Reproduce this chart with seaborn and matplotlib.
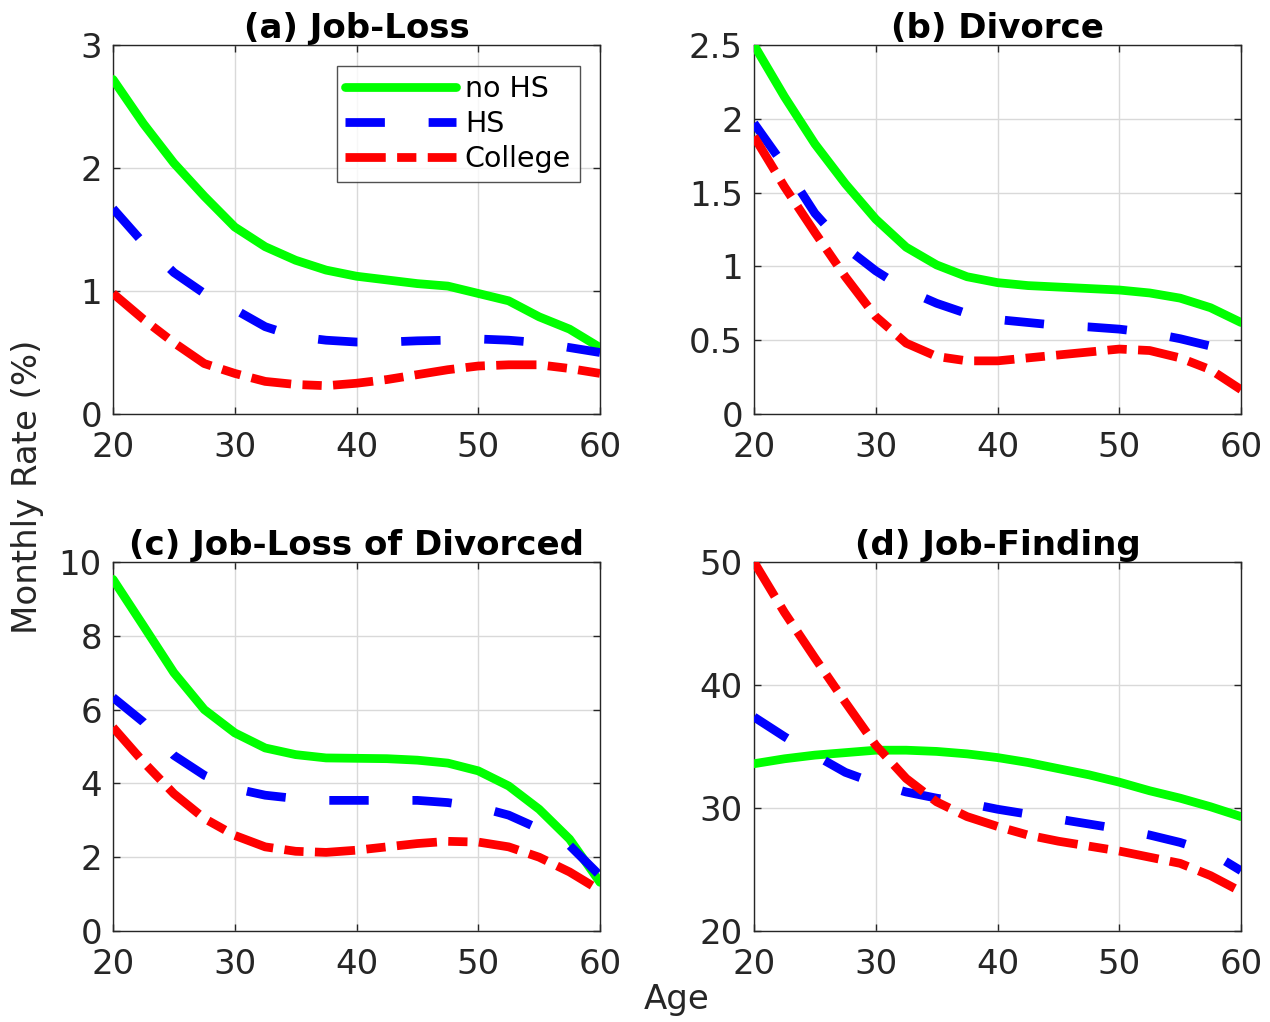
import numpy as np
import pandas as pd
import matplotlib
matplotlib.use("Agg")
import matplotlib.pyplot as plt
import seaborn as sns

# ---------------- data ----------------
ages = [20, 22.5, 25, 27.5, 30, 32.5, 35, 37.5, 40, 42.5, 45, 47.5, 50, 52.5, 55, 57.5, 60]

jobloss_nohs = [2.72, 2.36, 2.04, 1.77, 1.52, 1.36, 1.25, 1.17, 1.12, 1.09, 1.06, 1.04, 0.98, 0.92, 0.79, 0.69, 0.54]
jobloss_hs = [1.67, 1.39, 1.15, 0.98, 0.85, 0.71, 0.63, 0.60, 0.585, 0.585, 0.595, 0.60, 0.61, 0.60, 0.58, 0.54, 0.50]
jobloss_col = [0.98, 0.77, 0.58, 0.41, 0.33, 0.265, 0.24, 0.23, 0.25, 0.28, 0.32, 0.36, 0.39, 0.40, 0.40, 0.37, 0.33]

divorce_nohs = [2.50, 2.15, 1.83, 1.56, 1.32, 1.13, 1.01, 0.93, 0.89, 0.87, 0.86, 0.85, 0.84, 0.82, 0.785, 0.72, 0.62]
divorce_hs = [1.97, 1.68, 1.36, 1.13, 0.97, 0.84, 0.75, 0.68, 0.64, 0.62, 0.60, 0.59, 0.575, 0.55, 0.51, 0.46, 0.38]
divorce_col = [1.88, 1.54, 1.23, 0.93, 0.66, 0.48, 0.39, 0.36, 0.36, 0.38, 0.40, 0.42, 0.44, 0.43, 0.38, 0.30, 0.165]

jldiv_nohs = [9.53, 8.27, 7.00, 6.00, 5.37, 4.96, 4.78, 4.69, 4.68, 4.67, 4.63, 4.55, 4.34, 3.93, 3.30, 2.49, 1.32]
jldiv_hs = [6.33, 5.66, 4.76, 4.22, 3.86, 3.68, 3.59, 3.54, 3.54, 3.54, 3.54, 3.48, 3.36, 3.14, 2.77, 2.32, 1.50]
jldiv_col = [5.52, 4.58, 3.72, 3.05, 2.59, 2.28, 2.16, 2.13, 2.19, 2.28, 2.37, 2.43, 2.41, 2.28, 2.00, 1.60, 1.10]

jobfind_nohs = [33.6, 34.0, 34.3, 34.5, 34.7, 34.7, 34.6, 34.4, 34.1, 33.7, 33.2, 32.7, 32.1, 31.4, 30.8, 30.1, 29.3]
jobfind_hs = [37.4, 35.8, 34.3, 32.9, 32.0, 31.3, 30.8, 30.4, 29.9, 29.5, 29.1, 28.7, 28.3, 27.8, 27.2, 26.4, 24.9]
jobfind_col = [50.0, 45.9, 42.2, 38.6, 35.1, 32.4, 30.5, 29.3, 28.5, 27.8, 27.3, 26.9, 26.5, 26.0, 25.5, 24.5, 23.2]

groups = ["no HS", "HS", "College"]
titles = ["(a) Job-Loss", "(b) Divorce", "(c) Job-Loss of Divorced", "(d) Job-Finding"]
panel_series = [
    [jobloss_nohs, jobloss_hs, jobloss_col],
    [divorce_nohs, divorce_hs, divorce_col],
    [jldiv_nohs, jldiv_hs, jldiv_col],
    [jobfind_nohs, jobfind_hs, jobfind_col],
]
yticks = [[0, 1, 2, 3], [0, 0.5, 1, 1.5, 2, 2.5], [0, 2, 4, 6, 8, 10], [20, 30, 40, 50]]
yticklabels = [["0", "1", "2", "3"], ["0", "0.5", "1", "1.5", "2", "2.5"],
               ["0", "2", "4", "6", "8", "10"], ["20", "30", "40", "50"]]
xticks = [20, 30, 40, 50, 60]

# ---------------- style ----------------
sns.set_theme(style="ticks")
plt.rcParams["font.family"] = ["DejaVu Sans"]

colors = {"no HS": "#00ff00", "HS": "#0000ff", "College": "#ff0000"}
dash_styles = {"no HS": "-", "HS": (0, (4.5, 5.0)), "College": (0, (4.6, 1.3, 2.2, 1.3))}
LW = 6.3
TXT = "#262626"
FS = 24.5

fig = plt.figure(figsize=(12.7, 10.22), dpi=100)
W, H = 1270.0, 1022.0
positions = [(113, 45), (754, 45), (113, 562), (754, 562)]
aw, ah = 487, 369

for i, (px, py) in enumerate(positions):
    ax = fig.add_axes([px / W, 1 - (py + ah) / H, aw / W, ah / H])
    rows = []
    for g, vals in zip(groups, panel_series[i]):
        for a, v in zip(ages, vals):
            rows.append({"Age": a, "Rate": v, "Group": g})
    df = pd.DataFrame(rows)
    for g in groups:
        sub = df[df["Group"] == g]
        sns.lineplot(data=sub, x="Age", y="Rate", ax=ax, color=colors[g],
                     linewidth=LW, label=g, legend=False, zorder=3)
        ln = ax.get_lines()[-1]
        ln.set_linestyle(dash_styles[g])
        ln.set_dash_capstyle("butt")
        ln.set_solid_joinstyle("round")
    ax.set_xlim(20, 60)
    ax.set_ylim(yticks[i][0], yticks[i][-1])
    ax.set_xticks(xticks)
    ax.set_xticklabels([str(t) for t in xticks])
    ax.set_yticks(yticks[i])
    ax.set_yticklabels(yticklabels[i])
    ax.set_xlabel("")
    ax.set_ylabel("")
    ax.grid(True, color="#d9d9d9", linewidth=1.0)
    ax.set_axisbelow(True)
    ax.tick_params(axis="both", direction="in", length=5, width=1.0, colors=TXT,
                   labelsize=FS, top=True, right=True)
    ax.tick_params(axis="x", pad=12)
    ax.tick_params(axis="y", pad=8)
    for s in ax.spines.values():
        s.set_color(TXT)
        s.set_linewidth(1.0)
        s.set_visible(True)
    ax.set_title(titles[i], fontsize=FS, fontweight="bold", color="black", pad=5)
    if i == 0:
        leg = ax.legend(loc="upper right", fontsize=20.5, handlelength=3.9,
                        frameon=True, fancybox=False, edgecolor=TXT,
                        borderaxespad=0.0, bbox_to_anchor=(0.958, 0.942),
                        labelspacing=0.25, handletextpad=0.3, borderpad=0.3)
        leg.get_frame().set_linewidth(1.0)
        for t in leg.get_texts():
            t.set_color("black")

fig.text(0.022, 0.5235, "Monthly Rate (%)", rotation=90, ha="center", va="center",
         fontsize=FS, color=TXT)
fig.text(677 / W, 1 - 1000 / H, "Age", ha="center", va="center", fontsize=FS, color=TXT)

fig.savefig("out.png", dpi=100)
